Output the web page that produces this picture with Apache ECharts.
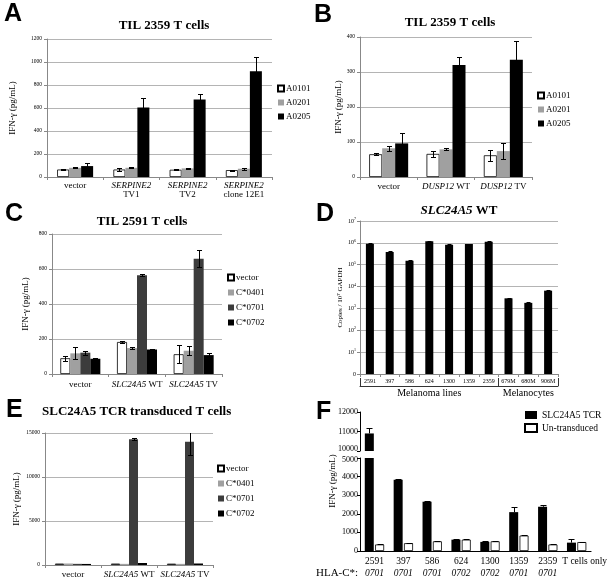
<!DOCTYPE html>
<html><head><meta charset="utf-8">
<script src="https://cdn.jsdelivr.net/npm/echarts@6/dist/echarts.min.js"></script>
<style>html,body{margin:0;padding:0;background:#fff}#c{width:610px;height:584px}</style>
</head><body><div id="c"></div>
<script>
// ---------- DATA ----------
// Panel A
const aCats = ['vector', 'SERPINE2\nTV1', 'SERPINE2\nTV2', 'SERPINE2\nclone 12E1'];
const aNames = ['A0101', 'A0201', 'A0205'];
const aA0101 = [65, 65, 63, 60];
const aA0201 = [80, 80, 75, 72];
const aA0205 = [95, 605, 675, 920];
const aA0101Err = [4, 14, 6, 5];
const aA0201Err = [5, 5, 3, 10];
const aA0205Err = [28, 85, 50, 125];
// Panel B
const bCats = ['vector', 'DUSP12 WT', 'DUSP12 TV'];
const bA0101 = [65, 66, 62];
const bA0201 = [82, 79, 74];
const bA0205 = [96, 320, 335];
const bA0101Err = [3, 8, 15];
const bA0201Err = [7, 3, 23];
const bA0205Err = [30, 22, 55];
// Panel C
const cCats = ['vector', 'SLC24A5 WT', 'SLC24A5 TV'];
const cNames = ['vector', 'C*0401', 'C*0701', 'C*0702'];
const cVector = [90, 183, 113];
const cC0401 = [118, 148, 133];
const cC0701 = [122, 565, 658];
const cC0702 = [87, 140, 108];
const cVectorErr = [15, 8, 50];
const cC0401Err = [35, 4, 25];
const cC0701Err = [12, 5, 48];
const cC0702Err = [3, 5, 12];
// Panel D
const dCats = ['2591', '397', '586', '624', '1300', '1359', '2359', '679M', '680M', '906M'];
const dCopies = [900000, 380000, 150000, 1180000, 820000, 880000, 1130000, 2900, 1800, 6500];
const dCopiesErr = [40000, 25000, 8000, 50000, 35000, 35000, 50000, 250, 120, 500];
const dGroups = ['Melanoma lines', 'Melanocytes'];
const dGroupSizes = [7, 3];
// Panel E
const eCats = ['vector', 'SLC24A5 WT', 'SLC24A5 TV'];
const eVector = [160, 160, 150];
const eC0401 = [170, 130, 130];
const eC0701 = [130, 14300, 14000];
const eC0702 = [120, 230, 170];
const eVectorErr = [0, 0, 0];
const eC0401Err = [0, 0, 0];
const eC0701Err = [0, 150, 1500];
const eC0702Err = [0, 50, 0];
// Panel F
const fCats = ['2591', '397', '586', '624', '1300', '1359', '2359', 'T cells only'];
const fHla = ['0701', '0701', '0701', '0702', '0702', '0701', '0701', ''];
const fNames = ['SLC24A5 TCR', 'Un-transduced'];
const fTcr = [10900, 3830, 2650, 610, 490, 2090, 2380, 450];
const fTcrErr = [270, 25, 60, 60, 70, 270, 90, 180];
const fUn = [350, 420, 520, 610, 520, 830, 350, 480];
const fUnErr = [30, 20, 40, 50, 30, 30, 30, 20];
const fUpperTicks = [10000, 12000, 1000];
const fLowerTicks = [0, 5000, 1000];

// ---------- STYLE HELPERS ----------
const SERIF = 'Liberation Serif';
const SANS = 'Liberation Sans';
const AX = '#888888';
const GRID = '#b4b4b4';
const C_WHITE = '#ffffff', C_GRAY = '#a0a0a0', C_DARK = '#3c3c3c', C_BLACK = '#000000';
const plain = (v) => String(v);

function italicGene(v) {
  return v.replace(/^(SERPINE2|DUSP12|SLC24A5)/, '{i|$1}');
}
function exX(gi, data, margin) {
  return {
    type: 'category', gridIndex: gi, data: data,
    axisLine: { lineStyle: { color: AX, width: 1 } },
    axisTick: { show: true, length: 3, lineStyle: { color: AX } },
    axisLabel: {
      interval: 0, margin: margin, fontFamily: SERIF, fontSize: 9, color: '#000', lineHeight: 9,
      formatter: italicGene,
      rich: { i: { fontStyle: 'italic', fontFamily: SERIF, fontSize: 9, color: '#000', lineHeight: 9 } }
    }
  };
}
function exY(gi, max, interval, name, nameGap) {
  return {
    type: 'value', gridIndex: gi, min: 0, max: max, interval: interval,
    name: name, nameLocation: 'middle', nameGap: nameGap,
    nameTextStyle: { fontFamily: SERIF, fontSize: 9, color: '#000' },
    axisLine: { show: true, lineStyle: { color: AX } },
    axisTick: { show: true, length: 3, lineStyle: { color: AX } },
    axisLabel: { fontFamily: SERIF, fontSize: 5.5, color: '#000', margin: 5, formatter: plain },
    splitLine: { show: true, lineStyle: { color: GRID, width: 1 } }
  };
}
function bar(name, xi, vals, color, bw, gap) {
  return {
    type: 'bar', name: name, xAxisIndex: xi, yAxisIndex: xi, data: vals,
    barWidth: bw, barGap: gap, animation: false, clip: true,
    itemStyle: { color: color, borderColor: color === C_WHITE ? '#000' : color, borderWidth: color === C_WHITE ? 0.8 : 0 }
  };
}
function err(xi, vals, errs, j, n, bw, gapPct, cap, upOnly) {
  return {
    type: 'custom', xAxisIndex: xi, yAxisIndex: xi, clip: true, silent: true, z: 5, animation: false,
    data: vals.map((v, i) => [i, v, errs[i]]),
    encode: { x: 0, y: 1 },
    renderItem: function (params, api) {
      const i = api.value(0), v = api.value(1), e = api.value(2);
      if (!e) return null;
      const gap = bw * gapPct;
      const total = n * bw + (n - 1) * gap;
      const c = api.coord([i, v]);
      const x = Math.round(c[0] - total / 2 + j * (bw + gap) + bw / 2) + 0.5;
      const yt = Math.round(api.coord([i, v + e])[1]) + 0.5;
      const yb = upOnly ? c[1] : Math.round(api.coord([i, v - e])[1]) + 0.5;
      const st = { stroke: '#000', lineWidth: 1 };
      const ch = [
        { type: 'line', shape: { x1: x, y1: yt, x2: x, y2: yb }, style: st },
        { type: 'line', shape: { x1: x - cap / 2, y1: yt, x2: x + cap / 2, y2: yt }, style: st }
      ];
      if (!upOnly) ch.push({ type: 'line', shape: { x1: x - cap / 2, y1: yb, x2: x + cap / 2, y2: yb }, style: st });
      return { type: 'group', children: ch };
    }
  };
}
const letterStyle = { fontFamily: SANS, fontWeight: 'bold', fontSize: 25, color: '#000' };
const titleStyle = { fontFamily: SERIF, fontWeight: 'bold', fontSize: 13, color: '#000' };
function legendEx(left, top, names, gap) {
  return {
    left: left, top: top, orient: 'vertical', padding: 0, itemGap: gap,
    itemWidth: 6, itemHeight: 6, icon: 'rect', data: names, selectedMode: false,
    textStyle: { fontFamily: SERIF, fontSize: 9, color: '#000', padding: [0, 0, 0, -3] }
  };
}

// ---------- LAYOUT ----------
const grids = [
  { left: 47, top: 39, width: 225, height: 138 },   // 0 A
  { left: 360, top: 37, width: 172, height: 140 },  // 1 B
  { left: 52, top: 234, width: 170, height: 140 },  // 2 C
  { left: 360, top: 221, width: 198, height: 153 }, // 3 D
  { left: 45, top: 433, width: 168, height: 132 },  // 4 E
  { left: 360, top: 412, width: 232, height: 39 },  // 5 F upper
  { left: 360, top: 458, width: 232, height: 93 }   // 6 F lower
];

const dTickIdx = [0];
dGroupSizes.reduce((s, k) => { dTickIdx.push(s + k); return s + k; }, 0);
const dLabelIdx = [];
dGroupSizes.reduce((s, k) => { dLabelIdx.push(s + (k - 1) / 2); return s + k; }, 0);

const xAxes = [
  exX(0, aCats, 4),
  exX(1, bCats, 5),
  exX(2, cCats, 6),
  Object.assign(exX(3, dCats, 4), { axisLabel: { interval: 0, margin: 4, fontFamily: SERIF, fontSize: 6, color: '#000' } }),
  exX(4, eCats, 5),
  { type: 'category', gridIndex: 5, data: fCats, show: false },
  {
    type: 'category', gridIndex: 6, data: fCats,
    axisLine: { lineStyle: { color: '#000', width: 1 } },
    axisTick: { show: false },
    axisLabel: {
      interval: 0, margin: 5, fontFamily: SERIF, fontSize: 9.5, color: '#000',
      formatter: (v, i) => i === fCats.length - 1 ? '{t|' + v + '}' : v,
      rich: { t: { fontFamily: SERIF, fontSize: 9.5, color: '#000', padding: [0, 0, 0, 16] } }
    }
  },
  // D group bracket axis
  {
    type: 'category', gridIndex: 3, data: dCats, position: 'bottom', offset: 12,
    axisLine: { show: true, lineStyle: { color: '#000', width: 0.8 } },
    axisTick: { show: true, inside: true, length: 8, interval: (i) => dTickIdx.indexOf(i) >= 0, lineStyle: { color: '#000', width: 0.8 } },
    axisLabel: {
      interval: 0, margin: 2, fontFamily: SERIF, fontSize: 10, color: '#000',
      formatter: (v, i) => {
        for (let g = 0; g < dLabelIdx.length; g++) if (Math.floor(dLabelIdx[g]) === i) return dGroups[g];
        return '';
      }
    }
  },
  // F HLA axis
  {
    type: 'category', gridIndex: 6, data: fHla, position: 'bottom', offset: 14,
    axisLine: { show: false }, axisTick: { show: false },
    axisLabel: { interval: 0, margin: 3, fontFamily: SERIF, fontStyle: 'italic', fontSize: 9.5, color: '#000' }
  }
];

const yAxes = [
  exY(0, 1200, 200, 'IFN-γ (pg/mL)', 30),
  exY(1, 400, 100, 'IFN-γ (pg/mL)', 17),
  exY(2, 800, 200, 'IFN-γ (pg/mL)', 22),
  {
    type: 'log', gridIndex: 3, min: 1, max: 10000000, logBase: 10, splitNumber: 7,
    name: 'Copies / 10⁷ GAPDH', nameLocation: 'middle', nameGap: 12,
    nameTextStyle: { fontFamily: SERIF, fontSize: 7, color: '#000' },
    axisLine: { show: true, lineStyle: { color: AX } },
    axisTick: { show: true, length: 3, lineStyle: { color: AX } },
    splitLine: { show: true, lineStyle: { color: GRID } },
    axisLabel: {
      margin: 4, fontFamily: SERIF, fontSize: 6, color: '#000',
      formatter: (v) => {
        const e = Math.round(Math.log10(v));
        return e === 0 ? '0' : '{b|10}{s|' + e + '}';
      },
      rich: {
        b: { fontFamily: SERIF, fontSize: 6, color: '#000' },
        s: { fontFamily: SERIF, fontSize: 4, color: '#000', verticalAlign: 'top', padding: [0, 0, 4, 0] }
      }
    }
  },
  exY(4, 15000, 5000, 'IFN-γ (pg/mL)', 24),
  {
    type: 'value', gridIndex: 5, min: fUpperTicks[0], max: fUpperTicks[1], interval: fUpperTicks[2],
    axisLine: { show: true, lineStyle: { color: '#000' } },
    axisTick: { show: true, length: 3, lineStyle: { color: '#000' } },
    axisLabel: {
      fontFamily: SERIF, fontSize: 8, color: '#000', margin: 2,
      formatter: (v) => v === fUpperTicks[0] ? '{m|' + v + '}' : String(v),
      rich: { m: { fontFamily: SERIF, fontSize: 8, color: '#000', padding: [0, 0, 4, 0] } }
    },
    splitLine: { show: false }
  },
  {
    type: 'value', gridIndex: 6, min: fLowerTicks[0], max: fLowerTicks[1], interval: fLowerTicks[2],
    axisLine: { show: true, lineStyle: { color: '#000' } },
    axisTick: { show: true, length: 3, lineStyle: { color: '#000' } },
    axisLabel: {
      fontFamily: SERIF, fontSize: 8, color: '#000', margin: 2,
      formatter: (v) => v === fLowerTicks[1] ? '{m|' + v + '}' : String(v),
      rich: { m: { fontFamily: SERIF, fontSize: 8, color: '#000', padding: [3, 0, 0, 0] } }
    },
    splitLine: { show: false }
  }
];

const series = [
  // A
  bar('A0101', 0, aA0101, C_WHITE, 12, '0%'),
  bar('A0201', 0, aA0201, C_GRAY, 12, '0%'),
  bar('A0205', 0, aA0205, C_BLACK, 12, '0%'),
  err(0, aA0101, aA0101Err, 0, 3, 12, 0, 5, false),
  err(0, aA0201, aA0201Err, 1, 3, 12, 0, 5, false),
  err(0, aA0205, aA0205Err, 2, 3, 12, 0, 5, false),
  // B
  bar('A0101', 1, bA0101, C_WHITE, 13, '0%'),
  bar('A0201', 1, bA0201, C_GRAY, 13, '0%'),
  bar('A0205', 1, bA0205, C_BLACK, 13, '0%'),
  err(1, bA0101, bA0101Err, 0, 3, 13, 0, 5, false),
  err(1, bA0201, bA0201Err, 1, 3, 13, 0, 5, false),
  err(1, bA0205, bA0205Err, 2, 3, 13, 0, 5, false),
  // C
  bar('vector', 2, cVector, C_WHITE, 10, '0%'),
  bar('C*0401', 2, cC0401, C_GRAY, 10, '0%'),
  bar('C*0701', 2, cC0701, C_DARK, 10, '0%'),
  bar('C*0702', 2, cC0702, C_BLACK, 10, '0%'),
  err(2, cVector, cVectorErr, 0, 4, 10, 0, 5, false),
  err(2, cC0401, cC0401Err, 1, 4, 10, 0, 5, false),
  err(2, cC0701, cC0701Err, 2, 4, 10, 0, 5, false),
  err(2, cC0702, cC0702Err, 3, 4, 10, 0, 5, false),
  // D
  bar('copies', 3, dCopies, C_BLACK, 8, '0%'),
  err(3, dCopies, dCopiesErr, 0, 1, 8, 0, 4, false),
  // E
  bar('vector', 4, eVector, C_WHITE, 9, '0%'),
  bar('C*0401', 4, eC0401, C_GRAY, 9, '0%'),
  bar('C*0701', 4, eC0701, C_DARK, 9, '0%'),
  bar('C*0702', 4, eC0702, C_BLACK, 9, '0%'),
  err(4, eVector, eVectorErr, 0, 4, 9, 0, 5, false),
  err(4, eC0401, eC0401Err, 1, 4, 9, 0, 5, false),
  err(4, eC0701, eC0701Err, 2, 4, 9, 0, 5, false),
  err(4, eC0702, eC0702Err, 3, 4, 9, 0, 5, false),
  // F upper
  bar('SLC24A5 TCR', 5, fTcr, C_BLACK, 9, '15%'),
  bar('Un-transduced', 5, fUn, C_WHITE, 9, '15%'),
  err(5, fTcr, fTcrErr, 0, 2, 9, 0.15, 6, true),
  err(5, fUn, fUnErr, 1, 2, 9, 0.15, 6, true),
  // F lower
  bar('SLC24A5 TCR', 6, fTcr, C_BLACK, 9, '15%'),
  bar('Un-transduced', 6, fUn, C_WHITE, 9, '15%'),
  err(6, fTcr, fTcrErr, 0, 2, 9, 0.15, 6, true),
  err(6, fUn, fUnErr, 1, 2, 9, 0.15, 6, true)
];

const titles = [
  { text: 'A', left: 4, top: 2, padding: 0, textStyle: letterStyle },
  { text: 'B', left: 314, top: 3, padding: 0, textStyle: letterStyle },
  { text: 'C', left: 5, top: 202, padding: 0, textStyle: letterStyle },
  { text: 'D', left: 316, top: 202, padding: 0, textStyle: letterStyle },
  { text: 'E', left: 6, top: 398, padding: 0, textStyle: letterStyle },
  { text: 'F', left: 316, top: 400, padding: 0, textStyle: letterStyle },
  { text: 'TIL 2359 T cells', left: 164, top: 19, textAlign: 'center', padding: 0, textStyle: titleStyle },
  { text: 'TIL 2359 T cells', left: 450, top: 16, textAlign: 'center', padding: 0, textStyle: titleStyle },
  { text: 'TIL 2591 T cells', left: 142, top: 215, textAlign: 'center', padding: 0, textStyle: titleStyle },
  {
    text: '{i|SLC24A5} WT', left: 459, top: 204, textAlign: 'center', padding: 0,
    textStyle: Object.assign({}, titleStyle, { rich: { i: { fontFamily: SERIF, fontWeight: 'bold', fontStyle: 'italic', fontSize: 13, color: '#000' } } })
  },
  { text: 'SLC24A5 TCR transduced T cells', left: 42, top: 405, padding: 0, textStyle: titleStyle },
  { text: 'HLA-C*:', left: 316, top: 568, padding: 0, textStyle: { fontFamily: SERIF, fontWeight: 'normal', fontSize: 11, color: '#000' } }
];

const legends = [
  legendEx(277, 84, aNames, 5),
  legendEx(537, 91, aNames, 5),
  legendEx(227, 273, cNames, 6),
  legendEx(217, 464, cNames, 6),
  {
    left: 524, top: 410, orient: 'vertical', padding: 0, itemGap: 3,
    itemWidth: 12, itemHeight: 8, icon: 'rect', data: fNames, selectedMode: false,
    textStyle: { fontFamily: SERIF, fontSize: 9.5, color: '#000' }
  }
];

const chart = echarts.init(document.getElementById('c'), null, { renderer: 'canvas' });
chart.setOption({
  animation: false,
  backgroundColor: '#fff',
  title: titles,
  legend: legends,
  grid: grids,
  xAxis: xAxes,
  yAxis: yAxes,
  series: series,
  graphic: [{
    type: 'text', x: 333, y: 481, rotation: Math.PI / 2,
    style: { text: 'IFN-γ (pg/mL)', fontFamily: SERIF, fontSize: 9, fill: '#000', align: 'center', verticalAlign: 'middle' }
  }]
});
</script></body></html>
